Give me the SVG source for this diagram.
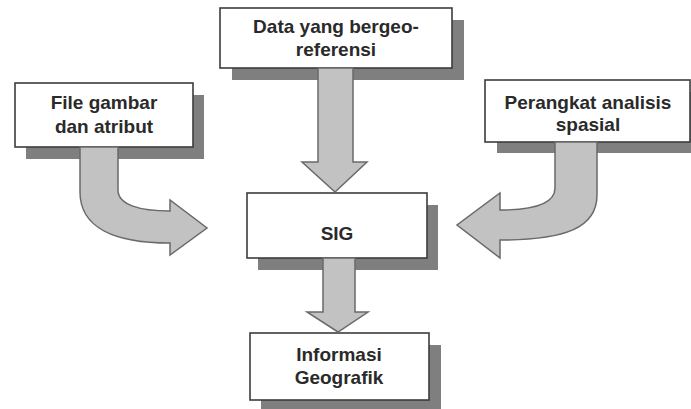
<svg xmlns="http://www.w3.org/2000/svg" width="691" height="409" viewBox="0 0 691 409">
<style>
.shadow{fill:#7f7f7f}
.box{fill:#ffffff;stroke:#3c3c3c;stroke-width:1.6}
.arrow{fill:#c2c2c2;stroke:#6a6a6a;stroke-width:1.5;stroke-linejoin:miter}
text{font-family:"Liberation Sans",Arial,sans-serif;font-weight:bold;font-size:19px;fill:#2a2a2a;text-anchor:middle}
</style>
<rect width="691" height="409" fill="#ffffff"/>
<g id="node-file">
<rect class="shadow" x="26" y="95" width="178" height="64"/>
<rect class="box" x="15" y="83" width="178" height="64"/>
<text x="104" y="109">File gambar</text>
<text x="104" y="133">dan atribut</text>
</g>
<g id="node-data">
<rect class="shadow" x="232" y="20" width="232" height="60"/>
<rect class="box" x="220" y="8" width="232" height="60"/>
<text x="336" y="33">Data yang bergeo-</text>
<text x="336" y="56">referensi</text>
</g>
<g id="node-perangkat">
<rect class="shadow" x="497" y="92" width="194" height="61"/>
<rect class="box" x="485" y="80" width="205" height="62"/>
<text x="588" y="109">Perangkat analisis</text>
<text x="588" y="131">spasial</text>
</g>
<g id="node-sig">
<rect class="shadow" x="258" y="205" width="180" height="65"/>
<rect class="box" x="247" y="193" width="180" height="65"/>
<text x="337" y="240">SIG</text>
</g>
<g id="node-info">
<rect class="shadow" x="261" y="345" width="180" height="67"/>
<rect class="box" x="250" y="333" width="179" height="67"/>
<text x="339" y="361">Informasi</text>
<text x="339" y="384">Geografik</text>
</g>
<g id="connectors">
<path class="arrow" d="M318 68 L353 68 L353 162 L367 162 L335 192 L302 162 L318 162 Z"/>
<path class="arrow" d="M323 258 L355 258 L355 312 L368 312 L338 332 L307 312 L323 312 Z"/>
<path class="arrow" d="M80 147 L118 147 L118 190 C118 205 140 211 170 211 L170 200 L207 228 L170 255 L170 243 C115 243 80 228 80 192 Z"/>
<path class="arrow" d="M597 142 L555 142 L555 188 C555 203 535 210 500 210 L500 193 L457 225 L500 258 L500 240 C565 240 597 228 597 195 Z"/>
</g>
</svg>
